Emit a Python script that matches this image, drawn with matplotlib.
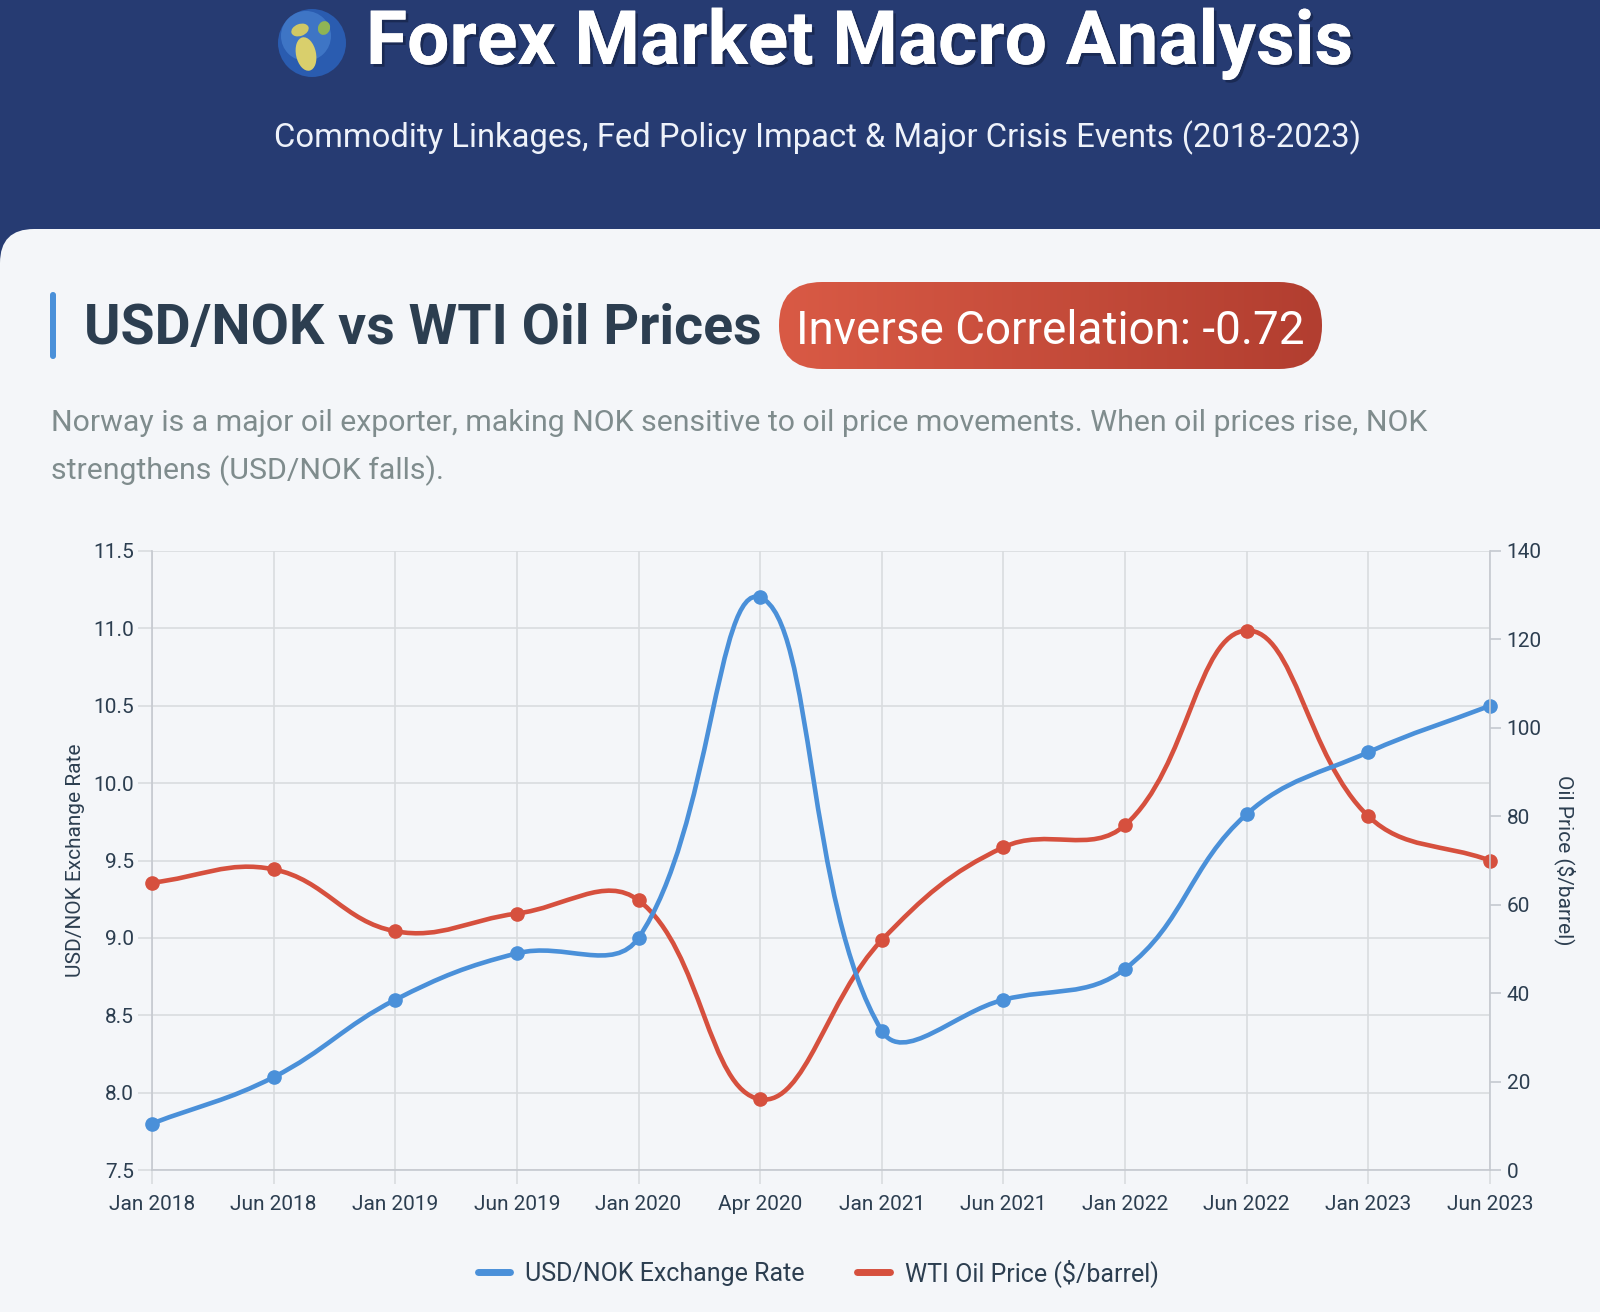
import numpy as np
import matplotlib.pyplot as plt
import matplotlib.patheffects as pe
from matplotlib.patches import FancyBboxPatch, Circle, Ellipse, PathPatch
from matplotlib.path import Path
from matplotlib.lines import Line2D
from matplotlib.colors import LinearSegmentedColormap

plt.rcParams['font.family'] = ['Roboto', 'DejaVu Sans']

# data
months = ['Jan 2018', 'Jun 2018', 'Jan 2019', 'Jun 2019', 'Jan 2020', 'Apr 2020',
          'Jan 2021', 'Jun 2021', 'Jan 2022', 'Jun 2022', 'Jan 2023', 'Jun 2023']
usd_nok = [7.8, 8.1, 8.6, 8.9, 9.0, 11.2, 8.4, 8.6, 8.8, 9.8, 10.2, 10.5]
wti_oil = [65, 68, 54, 58, 61, 16, 52, 73, 78, 122, 80, 70]

nok_ticks = [7.5, 8.0, 8.5, 9.0, 9.5, 10.0, 10.5, 11.0, 11.5]
oil_ticks = [0, 20, 40, 60, 80, 100, 120, 140]

BLUE = '#4a90d9'
RED = '#d6503e'
NAVY = '#263b72'
PANEL = '#f4f6f9'
DARK = '#2c3e50'
GRID = '#d9dcdf'

W, H = 1600, 1312
fig = plt.figure(figsize=(16, 13.12), dpi=100)
fig.patch.set_facecolor(NAVY)

# background canvas in pixel coords (y down)
bg = fig.add_axes([0, 0, 1, 1])
bg.axis('off')

panel = FancyBboxPatch((0, 229), 1700, 1200, boxstyle='round,pad=0,rounding_size=34',
                       fc=PANEL, ec='none', zorder=1)
bg.add_patch(panel)

# globe
bg.add_patch(Circle((312, 43), 34, fc='#2a5cb0', ec='none', zorder=3))
bg.add_patch(Circle((306, 36), 25, fc='#4f8ad8', ec='none', zorder=3, alpha=0.55))
bg.add_patch(Ellipse((306, 54), 20, 34, angle=-12, fc='#d9cf6c', ec='none', zorder=4))
bg.add_patch(Ellipse((300, 30), 18, 12, angle=-20, fc='#cfc865', ec='none', zorder=4))
bg.add_patch(Ellipse((324, 28), 12, 14, angle=20, fc='#8fb454', ec='none', zorder=4))

shadow = [pe.withSimplePatchShadow(offset=(2, -2), shadow_rgbFace='#101a38', alpha=0.5), pe.Normal()]
bg.text(366, 64, 'Forex Market Macro Analysis', fontsize=54, fontweight='bold',
        color='white', ha='left', va='baseline', zorder=5, path_effects=shadow)
bg.text(817, 147, 'Commodity Linkages, Fed Policy Impact & Major Crisis Events (2018-2023)',
        fontsize=23.6, color='#eef2fa', ha='center', va='baseline', zorder=5)

# section header
bg.add_patch(FancyBboxPatch((50, 292), 6, 67, boxstyle='round,pad=0,rounding_size=3',
                            fc=BLUE, ec='none', zorder=3))
bg.text(84, 344, 'USD/NOK vs WTI Oil Prices', fontsize=40, fontweight='bold',
        color=DARK, ha='left', va='baseline', zorder=5)

badge = FancyBboxPatch((779, 282), 543, 87, boxstyle='round,pad=0,rounding_size=43',
                       fc='none', ec='none', zorder=3)
bg.add_patch(badge)
cmap = LinearSegmentedColormap.from_list('badge', ['#d95a45', '#b23e30'])
im = bg.imshow(np.linspace(0, 1, 256).reshape(1, -1), extent=(779, 1322, 369, 282),
               cmap=cmap, aspect='auto', zorder=3)
im.set_clip_path(badge)
bg.text(1050, 344, 'Inverse Correlation: -0.72', fontsize=33, color='white',
        ha='center', va='baseline', zorder=5)

bg.text(51, 431, 'Norway is a major oil exporter, making NOK sensitive to oil price movements. '
        'When oil prices rise, NOK', fontsize=21.8, color='#7f8c8d', ha='left', va='baseline', zorder=5)
bg.text(51, 479, 'strengthens (USD/NOK falls).', fontsize=21.8, color='#7f8c8d',
        ha='left', va='baseline', zorder=5)

bg.set_xlim(0, W)
bg.set_ylim(H, 0)

# chart
ax = fig.add_axes([152 / W, 1 - 1170 / H, (1490 - 152) / W, (1170 - 551) / H])
ax.set_facecolor('none')
ax2 = ax.twinx()
x = np.arange(len(months))
ax.set_xlim(0, len(months) - 1)
ax.set_ylim(7.5, 11.5)
ax2.set_ylim(0, 140)


def smooth_path(axis, xs, ys, tension=0.4):
    # chart.js style bezier through the points, computed in pixels
    pts = axis.transData.transform(np.column_stack([xs, ys]))
    n = len(pts)
    cp_prev = pts.copy()
    cp_next = pts.copy()
    x0, y0, x1, y1 = axis.bbox.extents
    for i in range(n):
        prev = pts[i - 1] if i > 0 else pts[i]
        nxt = pts[i + 1] if i < n - 1 else pts[i]
        d01 = np.hypot(*(pts[i] - prev))
        d12 = np.hypot(*(nxt - pts[i]))
        tot = d01 + d12
        s01 = d01 / tot if tot else 0
        s12 = d12 / tot if tot else 0
        cp_prev[i] = pts[i] - tension * s01 * (nxt - prev)
        cp_next[i] = pts[i] + tension * s12 * (nxt - prev)
    for cp in (cp_prev, cp_next):
        cp[:, 0] = np.clip(cp[:, 0], x0, x1)
        cp[:, 1] = np.clip(cp[:, 1], y0, y1)
    verts = [pts[0]]
    codes = [Path.MOVETO]
    for i in range(n - 1):
        verts += [cp_next[i], cp_prev[i + 1], pts[i + 1]]
        codes += [Path.CURVE4] * 3
    verts = axis.transData.inverted().transform(np.array(verts))
    return Path(verts, codes)


# red first, blue on top (like the reference)
ax.add_patch(PathPatch(smooth_path(ax2, x, wti_oil), fill=False, ec=RED, lw=3.3,
                       capstyle='round', joinstyle='round', transform=ax2.transData, zorder=3))
ax.plot(x, wti_oil, 'o', ms=9.5, color=RED, transform=ax2.transData, zorder=4, clip_on=False)
ax.add_patch(PathPatch(smooth_path(ax, x, usd_nok), fill=False, ec=BLUE, lw=3.3,
                       capstyle='round', joinstyle='round', zorder=5))
ax.plot(x, usd_nok, 'o', ms=9.5, color=BLUE, zorder=6, clip_on=False)

ax.set_xlim(0, len(months) - 1)
ax.set_ylim(7.5, 11.5)
ax.set_xticks(x, months)
ax.set_yticks(nok_ticks, ['%.1f' % v for v in nok_ticks])
ax2.set_yticks(oil_ticks, [str(v) for v in oil_ticks])

ax.grid(True, color=GRID, lw=1.2)
ax.set_axisbelow(True)
ax.tick_params(axis='x', length=10, width=1.2, color=GRID, pad=8, labelsize=15, labelcolor=DARK)
ax.tick_params(axis='y', length=10, width=1.2, color=GRID, pad=3, labelsize=15, labelcolor=DARK)
ax2.tick_params(axis='y', length=8, width=1.2, color='#c5c9cf', pad=4, labelsize=15, labelcolor=DARK)

for s in ['top', 'right']:
    ax.spines[s].set_visible(False)
for s in ['left', 'bottom']:
    ax.spines[s].set_color('#c5c9cf')
    ax.spines[s].set_linewidth(1.2)
for s in ['top', 'left', 'bottom']:
    ax2.spines[s].set_visible(False)
ax2.spines['right'].set_color('#c5c9cf')
ax2.spines['right'].set_linewidth(1.2)

ax.set_ylabel('USD/NOK Exchange Rate', fontsize=15, color=DARK)
ax.yaxis.label.set_verticalalignment('center')
ax.yaxis.set_label_coords(-0.0575, 0.5)
ax2.set_ylabel('Oil Price ($/barrel)', fontsize=15, color=DARK, rotation=270)
ax2.yaxis.label.set_verticalalignment('center')
ax2.yaxis.set_label_coords(1.056, 0.5)

handles = [Line2D([], [], color=BLUE, lw=5, solid_capstyle='round'),
           Line2D([], [], color=RED, lw=5, solid_capstyle='round')]
fig.legend(handles, ['USD/NOK Exchange Rate', 'WTI Oil Price ($/barrel)'], loc='center',
           bbox_to_anchor=(818 / W, 1 - 1273 / H), ncol=2, frameon=False, fontsize=18,
           handlelength=1.3, handletextpad=0.6, columnspacing=2.1, labelcolor=DARK)

fig.savefig('out.png', dpi=100, facecolor=fig.get_facecolor())
